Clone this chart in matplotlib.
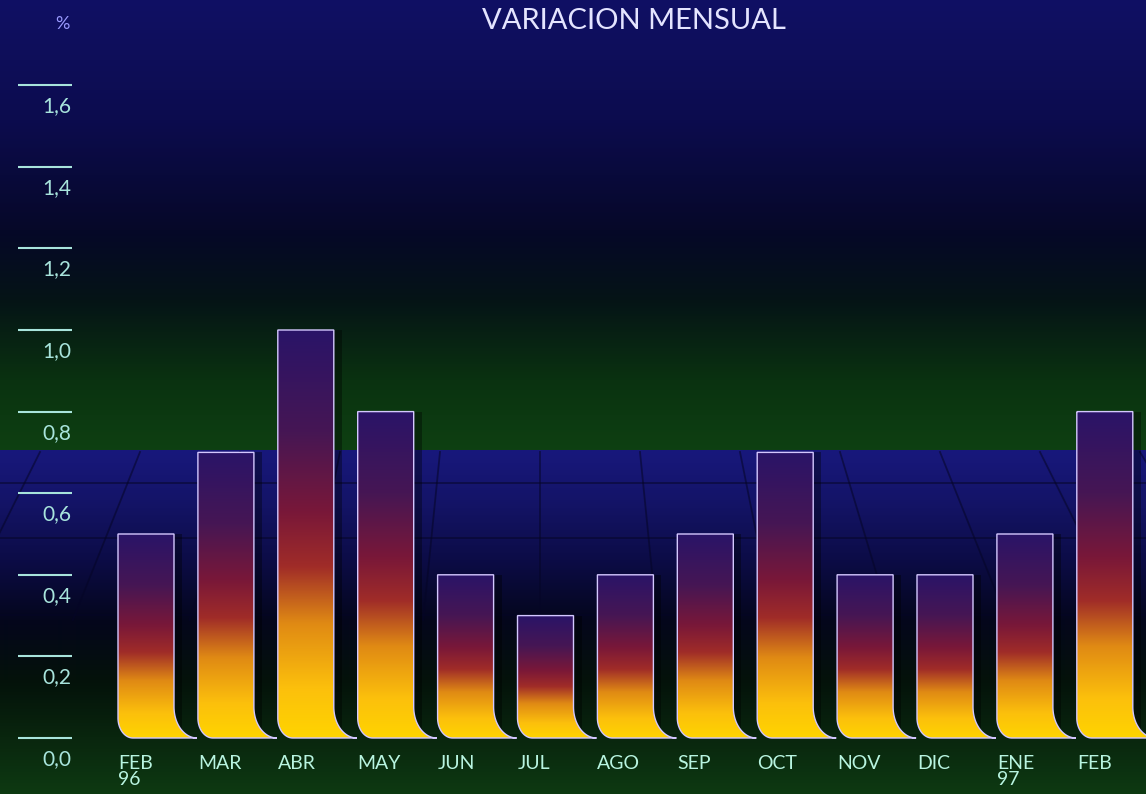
import numpy as np
import matplotlib
matplotlib.use('Agg')
import matplotlib.pyplot as plt
from matplotlib.path import Path
from matplotlib.patches import PathPatch, Rectangle
from matplotlib.colors import LinearSegmentedColormap

# ---------------- data ----------------
categories = ['FEB\n96', 'MAR', 'ABR', 'MAY', 'JUN', 'JUL', 'AGO', 'SEP',
              'OCT', 'NOV', 'DIC', 'ENE\n97', 'FEB']
values = [0.5, 0.7, 1.0, 0.8, 0.4, 0.3, 0.4, 0.5, 0.7, 0.4, 0.4, 0.5, 0.8]
ytick_values = [0.0, 0.2, 0.4, 0.6, 0.8, 1.0, 1.2, 1.4, 1.6]
ytick_labels = ['0,0', '0,2', '0,4', '0,6', '0,8', '1,0', '1,2', '1,4', '1,6']
title = 'VARIACION MENSUAL'
unit_label = '%'

FONT = ['Lato', 'DejaVu Sans']
W, H = 1146, 794
fig = plt.figure(figsize=(W / 100, H / 100), dpi=100)

# ---------------- background ----------------
bg = fig.add_axes([0, 0, 1, 1])
bg.set_xlim(0, W)
bg.set_ylim(H, 0)
bg.axis('off')
key_rows = [0, 120, 230, 300, 380, 449, 450, 500, 560, 620, 680, 794]
key_cols = [(16, 16, 100), (12, 12, 78), (6, 8, 40), (5, 20, 22), (10, 50, 16),
            (14, 64, 18), (24, 24, 124), (20, 20, 104), (12, 12, 70),
            (4, 6, 28), (4, 18, 10), (14, 58, 18)]
rows = np.arange(H)
kc = np.array(key_cols, dtype=float) / 255.0
grad = np.stack([np.interp(rows, key_rows, kc[:, c]) for c in range(3)], axis=-1)
bg.imshow(grad[:, None, :], extent=(0, W, H, 0), aspect='auto', interpolation='bilinear')
# floor grid
for yy in [483, 538, 615]:
    bg.plot([0, W], [yy, yy], color=(0.02, 0.02, 0.15), lw=1.3, alpha=0.55)
for k in range(-6, 7):
    xt = 540 + 100 * k
    xb = xt + (xt - 540) * 0.168
    bg.plot([xt, xb], [452, 620], color=(0.02, 0.02, 0.15), lw=1.3, alpha=0.55)

# ---------------- main axes ----------------
ax = fig.add_axes([0, 0, 1, 1])
ax.patch.set_alpha(0)
ax.axis('off')
px_x, px_y = 79.9, 408.0
x0_px, y0_px = 146, 738

cmap = LinearSegmentedColormap.from_list('bar', [
    (0.0, '#ffd400'), (0.12, '#fcc00c'), (0.28, '#e08a14'), (0.42, '#a02c28'),
    (0.55, '#7a1838'), (0.75, '#461654'), (1.0, '#2a1468')])

bw = 56 / px_x
rxl, ryl = 15 / px_x, 20 / px_y
rxf, ryf = 23 / px_x, 31 / px_y
frac = np.linspace(1, 0, 256)[:, None]

for i, v in enumerate(values):
    xa = i - bw / 2
    xb = i + bw / 2
    # faint shadow to the right of the bar
    ax.add_patch(Rectangle((xb, 0), 8 / px_x, v, facecolor='black', edgecolor='none',
                           alpha=0.35, zorder=1))
    verts = [(xa, v), (xb, v), (xb, ryf)]
    t = np.linspace(np.pi, 1.5 * np.pi, 24)
    verts += list(zip(xb + rxf + rxf * np.cos(t), ryf + ryf * np.sin(t)))
    t = np.linspace(1.5 * np.pi, np.pi, 24)
    verts += list(zip(xa + rxl + rxl * np.cos(t), ryl + ryl * np.sin(t)))
    verts.append((xa, v))
    codes = [Path.MOVETO] + [Path.LINETO] * (len(verts) - 2) + [Path.CLOSEPOLY]
    path = Path(verts, codes)
    clip = PathPatch(path, facecolor='none', edgecolor='none', transform=ax.transData)
    ax.add_patch(clip)
    im = ax.imshow(frac, extent=(xa, xb + rxf, 0, v), cmap=cmap, vmin=0, vmax=1,
                   aspect='auto', interpolation='bilinear', zorder=2)
    im.set_clip_path(clip)
    ax.add_patch(PathPatch(path, facecolor='none', edgecolor='#d4c8ff', lw=1.0, zorder=3))
    ax.text(xa, -17 / px_y, categories[i], ha='left', va='top', fontsize=14,
            color='#b8f4e0', linespacing=0.96, family=FONT)

# y ticks
tx0 = (18 - x0_px) / px_x
tx1 = (72 - x0_px) / px_x
ax.hlines(ytick_values, tx0, tx1, color='#a8e4dc', lw=1.5)
for v, lab in zip(ytick_values, ytick_labels):
    ax.text((71 - x0_px) / px_x, v - 21 / px_y, lab, ha='right', va='center',
            fontsize=15, color='#a8e4dc', family=FONT)

ax.set_xlim(-x0_px / px_x, (W - x0_px) / px_x)
ax.set_ylim(-(H - y0_px) / px_y, y0_px / px_y)

fig.text(634 / W, 1 - 21 / H, title, ha='center', va='center', fontsize=21,
         color='#e4e4ff', family=FONT)
fig.text(62 / W, 1 - 24 / H, unit_label, ha='center', va='center', fontsize=13,
         color='#9a9aff', family=FONT)

fig.savefig('out.png', dpi=100)
